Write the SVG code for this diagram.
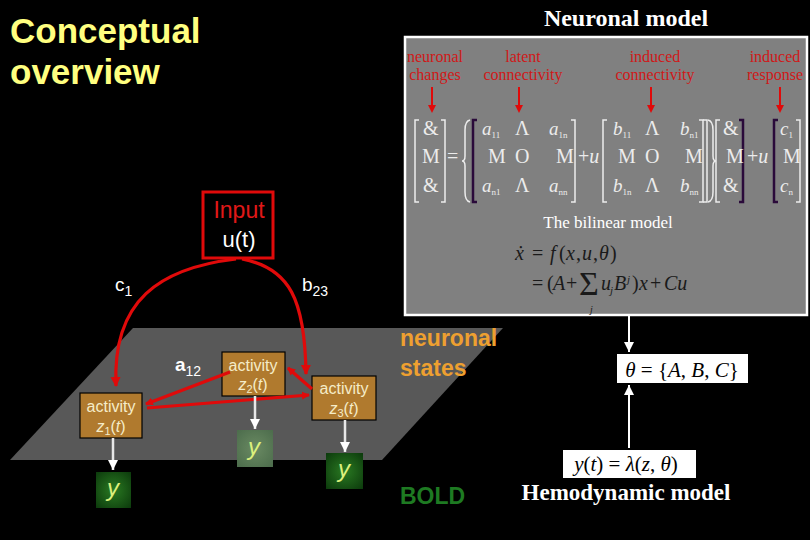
<svg xmlns="http://www.w3.org/2000/svg" width="810" height="540" viewBox="0 0 810 540">
<style>
.serif{font-family:"Liberation Serif","Times New Roman",serif}
.sans{font-family:"Liberation Sans",Arial,sans-serif}
.lbl{font-family:"Liberation Serif",serif;font-size:16px;fill:#d01818;text-anchor:middle}
.mx{font-family:"Liberation Serif",serif;font-size:20px;fill:#ececec}
.mi{font-family:"Liberation Serif",serif;font-size:19px;fill:#ececec;font-style:italic}
.sub{font-size:9px;font-style:normal}
.br{fill:none;stroke:#ececec;stroke-width:1.5}
.brd{fill:none;stroke:#2a0a3a;stroke-width:2.5}
.act{fill:#b07a2e;stroke:#000;stroke-width:1.2}
.actt{font-family:"Liberation Sans",Arial,sans-serif;font-size:16px;fill:#f5ecc8;text-anchor:middle}
.red{fill:none;stroke:#e00a0a;stroke-width:3.2}
.wht{fill:none;stroke:#e8e8e8;stroke-width:2.5}
.yt{font-family:"Liberation Sans",Arial,sans-serif;font-size:24px;font-style:italic;fill:#dcf07c;text-anchor:middle}
.wl{font-family:"Liberation Sans",Arial,sans-serif;fill:#ffffff}
.f{font-family:"Liberation Serif",serif;font-size:20px;fill:#1a1a1a}
.i{font-style:italic}
</style>
<defs>
<marker id="ra" markerUnits="userSpaceOnUse" markerWidth="12" markerHeight="12" refX="9" refY="5" orient="auto"><path d="M0,0 L10,5 L0,10 z" fill="#e00a0a"/></marker>
<marker id="rs" markerUnits="userSpaceOnUse" markerWidth="10" markerHeight="10" refX="7" refY="4" orient="auto"><path d="M0,0 L8,4 L0,8 z" fill="#e00a0a"/></marker>
<marker id="wa" markerUnits="userSpaceOnUse" markerWidth="12" markerHeight="12" refX="10" refY="5" orient="auto"><path d="M0,0 L10,5 L0,10 z" fill="#ffffff"/></marker>
<radialGradient id="g1" cx="50%" cy="50%" r="70%"><stop offset="0" stop-color="#2a7a22"/><stop offset="1" stop-color="#0c3a0c"/></radialGradient>
<radialGradient id="g2" cx="50%" cy="50%" r="70%"><stop offset="0" stop-color="#6a8a62"/><stop offset="1" stop-color="#4c6c4c"/></radialGradient>
</defs>
<rect x="0" y="0" width="810" height="540" fill="#000"/>

<g id="title">
<text class="sans" x="10" y="43" font-size="35" font-weight="bold" fill="#ffff80">Conceptual</text>
<text class="sans" x="10" y="84" font-size="35" font-weight="bold" fill="#ffff80">overview</text>
</g>

<g id="plane">
<polygon points="133,328 503,328 382,460 10,460" fill="#585858"/>
</g>

<g id="neuronal-model">
<text class="serif" x="626" y="26" font-size="24" font-weight="bold" fill="#fff" text-anchor="middle">Neuronal model</text>
<rect x="405" y="37" width="402" height="278" fill="#808080" stroke="#fff" stroke-width="2.5"/>
<text class="lbl" x="435" y="62">neuronal</text>
<text class="lbl" x="435" y="80">changes</text>
<text class="lbl" x="523" y="62">latent</text>
<text class="lbl" x="523" y="80">connectivity</text>
<text class="lbl" x="655" y="62">induced</text>
<text class="lbl" x="655" y="80">connectivity</text>
<text class="lbl" x="775" y="62">induced</text>
<text class="lbl" x="775" y="80">response</text>
<g stroke="#e00a0a" stroke-width="2" fill="#e00a0a">
<line x1="432" y1="87" x2="432" y2="106"/><path d="M428,105 L436,105 L432,113 z" stroke="none"/>
<line x1="519" y1="87" x2="519" y2="106"/><path d="M515,105 L523,105 L519,113 z" stroke="none"/>
<line x1="651" y1="87" x2="651" y2="106"/><path d="M647,105 L655,105 L651,113 z" stroke="none"/>
<line x1="780" y1="87" x2="780" y2="106"/><path d="M776,105 L784,105 L780,113 z" stroke="none"/>
</g>
<!-- matrix equation -->
<path class="br" d="M419,120 H415 V202 H419"/>
<path class="br" d="M441,120 H445 V202 H441"/>
<text class="mx" x="423" y="135">&amp;</text>
<text class="mx" x="422" y="163">M</text>
<text class="mx" x="423" y="192">&amp;</text>
<text class="mx" x="447" y="163">=</text>
<path class="br" d="M470,120 Q465,121 465,130 V156 Q465,161 462,161 Q465,161 465,166 V192 Q465,201 470,202"/>
<path class="brd" d="M477,120 H473 V202 H477"/>
<path class="br" d="M571,120 H575 V202 H571"/>
<text class="mi" x="482" y="135">a<tspan class="sub" dy="3">11</tspan></text>
<text class="mx" x="515" y="135">Λ</text>
<text class="mi" x="549" y="135">a<tspan class="sub" dy="3">1n</tspan></text>
<text class="mx" x="488" y="163">M</text>
<text class="mx" x="515" y="163">O</text>
<text class="mx" x="556" y="163">M</text>
<text class="mi" x="482" y="192">a<tspan class="sub" dy="3">n1</tspan></text>
<text class="mx" x="515" y="192">Λ</text>
<text class="mi" x="549" y="192">a<tspan class="sub" dy="3">nn</tspan></text>
<text class="mx" x="578" y="163">+<tspan font-style="italic">u</tspan></text>
<path class="br" d="M607,120 H603 V202 H607"/>
<path class="br" d="M699,120 H703 V202 H699"/>
<path class="br" d="M703,120 H707 V202 H703"/>
<text class="mi" x="613" y="135">b<tspan class="sub" dy="3">11</tspan></text>
<text class="mx" x="645" y="135">Λ</text>
<text class="mi" x="680" y="135">b<tspan class="sub" dy="3">n1</tspan></text>
<text class="mx" x="618" y="163">M</text>
<text class="mx" x="645" y="163">O</text>
<text class="mx" x="685" y="163">M</text>
<text class="mi" x="613" y="192">b<tspan class="sub" dy="3">1n</tspan></text>
<text class="mx" x="645" y="192">Λ</text>
<text class="mi" x="680" y="192">b<tspan class="sub" dy="3">nn</tspan></text>
<path class="br" d="M708,120 Q713,121 713,130 V156 Q713,161 716,161 Q713,161 713,166 V192 Q713,201 708,202"/>
<path class="br" d="M720,120 H716 V202 H720"/>
<path class="brd" d="M739,120 H743 V202 H739"/>
<text class="mx" x="723" y="135">&amp;</text>
<text class="mx" x="726" y="163">M</text>
<text class="mx" x="723" y="192">&amp;</text>
<text class="mx" x="747" y="163">+<tspan font-style="italic">u</tspan></text>
<path class="brd" d="M778,120 H774 V202 H778"/>
<path class="br" d="M796,120 H800 V202 H796"/>
<text class="mi" x="780" y="135">c<tspan class="sub" dy="3">1</tspan></text>
<text class="mx" x="783" y="163">M</text>
<text class="mi" x="780" y="192">c<tspan class="sub" dy="3">n</tspan></text>
<text class="serif" x="608" y="228" font-size="17" fill="#fff" text-anchor="middle">The bilinear model</text>
<text class="f" y="260"><tspan class="i" x="515">ẋ</tspan><tspan x="532">=</tspan><tspan class="i" x="550">f</tspan><tspan x="559">(</tspan><tspan class="i" x="566">x</tspan><tspan x="576">,</tspan><tspan class="i" x="582">u</tspan><tspan x="593">,</tspan><tspan class="i" x="599">θ</tspan><tspan x="610">)</tspan></text>
<text class="f" y="290"><tspan x="532">=</tspan><tspan x="547">(</tspan><tspan class="i" x="553">A</tspan><tspan x="566">+</tspan></text>
<text font-family="Liberation Serif, serif" font-size="34" fill="#1a1a1a" x="579" y="295">Σ</text>
<text class="serif i" font-size="10" fill="#1a1a1a" x="590" y="313">j</text>
<text class="f" y="290"><tspan class="i" x="601">u</tspan><tspan class="i" x="610" font-size="11" dy="4">j</tspan><tspan class="i" x="614" dy="-4">B</tspan><tspan class="i" x="627" font-size="11" dy="-7">j</tspan><tspan x="632" dy="7">)</tspan><tspan class="i" x="639">x</tspan><tspan x="650">+</tspan><tspan class="i" x="664">Cu</tspan></text>
</g>

<g id="theta">
<rect x="617" y="354" width="131" height="29" fill="#fff"/>
<text class="serif" x="682" y="377" font-size="21" fill="#000" text-anchor="middle"><tspan font-style="italic">θ</tspan> = {<tspan font-style="italic">A</tspan>, <tspan font-style="italic">B</tspan>, <tspan font-style="italic">C</tspan>}</text>
</g>

<g id="hemodynamic">
<rect x="563" y="450" width="133" height="28" fill="#fff"/>
<text class="serif" x="626" y="471" font-size="21" fill="#000" text-anchor="middle"><tspan font-style="italic">y</tspan>(<tspan font-style="italic">t</tspan>) = <tspan font-style="italic">λ</tspan>(<tspan font-style="italic">z</tspan>, <tspan font-style="italic">θ</tspan>)</text>
<text class="serif" x="626" y="500" font-size="23" font-weight="bold" fill="#fff" text-anchor="middle">Hemodynamic model</text>
</g>

<g id="labels">
<text class="sans" x="400" y="346" font-size="23" font-weight="bold" fill="#eea030">neuronal</text>
<text class="sans" x="400" y="376" font-size="23" font-weight="bold" fill="#eea030">states</text>
<text class="sans" x="400" y="504" font-size="23" font-weight="bold" fill="#1e7a22">BOLD</text>
</g>

<g id="input">
<rect x="203" y="192" width="70" height="66" fill="#000" stroke="#e00a0a" stroke-width="3"/>
<text class="sans" x="239" y="218" font-size="23" fill="#e01818" text-anchor="middle">Input</text>
<text class="sans" x="239" y="247" font-size="22" fill="#fff" text-anchor="middle">u(t)</text>
</g>

<g id="z1">
<rect class="act" x="80" y="393" width="62" height="45"/>
<text class="actt" x="111" y="412">activity</text>
<text class="actt" x="111" y="432"><tspan font-style="italic">z</tspan><tspan font-size="11" dy="3">1</tspan><tspan dy="-3">(</tspan><tspan font-style="italic">t</tspan>)</text>
</g>
<g id="z2">
<rect class="act" x="222" y="352" width="63" height="44"/>
<text class="actt" x="253" y="371">activity</text>
<text class="actt" x="253" y="390"><tspan font-style="italic">z</tspan><tspan font-size="11" dy="3">2</tspan><tspan dy="-3">(</tspan><tspan font-style="italic">t</tspan>)</text>
</g>
<g id="z3">
<rect class="act" x="312" y="376" width="64" height="44"/>
<text class="actt" x="344" y="394">activity</text>
<text class="actt" x="344" y="414"><tspan font-style="italic">z</tspan><tspan font-size="11" dy="3">3</tspan><tspan dy="-3">(</tspan><tspan font-style="italic">t</tspan>)</text>
</g>

<g id="y1">
<rect x="96" y="472" width="35" height="36" fill="url(#g1)"/>
<text class="yt" x="113" y="496">y</text>
</g>
<g id="y2">
<rect x="237" y="430" width="36" height="37" fill="url(#g2)"/>
<text class="yt" x="254" y="455" fill="#e0f0a0">y</text>
</g>
<g id="y3">
<rect x="326" y="453" width="37" height="36" fill="url(#g1)"/>
<text class="yt" x="344" y="477">y</text>
</g>

<g id="connectors">
<path class="red" d="M236,259 C160,268 112,300 116,386" marker-end="url(#ra)"/>
<path class="red" d="M242,259 C290,268 305,300 306,374" marker-end="url(#ra)"/>
<line class="red" x1="230" y1="372" x2="146" y2="404" marker-end="url(#rs)"/>
<line class="red" x1="147" y1="408" x2="309" y2="395" marker-end="url(#rs)"/>
<line class="red" x1="312" y1="389" x2="288" y2="368" marker-end="url(#rs)"/>
<line class="wht" x1="113" y1="438" x2="113" y2="470" marker-end="url(#wa)"/>
<line class="wht" x1="255" y1="396" x2="255" y2="429" marker-end="url(#wa)"/>
<line class="wht" x1="345" y1="420" x2="345" y2="452" stroke="#d8d8d8" marker-end="url(#wa)"/>
<line x1="629" y1="316" x2="629" y2="352" stroke="#fff" stroke-width="2" marker-end="url(#wa)"/>
<line x1="629" y1="448" x2="629" y2="385" stroke="#fff" stroke-width="2" marker-end="url(#wa)"/>
</g>

<g id="weights">
<text class="wl" x="115" y="291" font-size="19">c<tspan font-size="14" dy="5">1</tspan></text>
<text class="wl" x="302" y="291" font-size="19">b<tspan font-size="14" dy="5">23</tspan></text>
<text class="wl" x="175" y="371" font-size="19" font-weight="bold">a<tspan font-size="14" font-weight="normal" dy="5">12</tspan></text>
</g>
</svg>
